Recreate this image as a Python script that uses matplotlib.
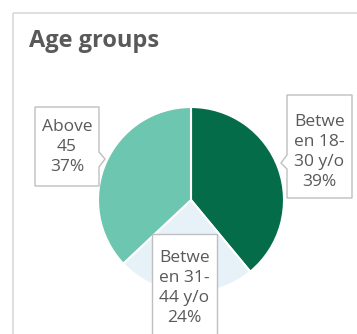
import matplotlib
matplotlib.use("Agg")
import matplotlib.pyplot as plt
from matplotlib.patches import Polygon, Rectangle

# data
groups = ["Betwe\nen 18-\n30 y/o", "Betwe\nen 31-\n44 y/o", "Above\n45"]
shares = [39, 24, 37]
colors = ["#046c48", "#e6f2f8", "#6cc6b0"]

W, H = 357, 334
TXT = "#595959"
plt.rcParams["font.family"] = ["Open Sans", "DejaVu Sans"]

fig = plt.figure(figsize=(W / 100, H / 100), dpi=100)

# overlay in pixel coordinates for card and title
ov = fig.add_axes([0, 0, 1, 1])
ov.set_xlim(0, W)
ov.set_ylim(H, 0)
ov.axis("off")
ov.add_patch(Rectangle((13, 13), 400, 400, fill=False, ec="#d9d9d9", lw=1.2))
ov.text(29, 41, "Age groups", fontsize=17, fontweight="bold", color=TXT,
        va="center", ha="left")

# pie
cx, cy, r = 191, 200, 93
pa = fig.add_axes([(cx - r) / W, 1 - (cy + r) / H, 2 * r / W, 2 * r / H])
pa.pie(shares, colors=colors, startangle=90, counterclock=False, radius=1,
       wedgeprops=dict(edgecolor="white", linewidth=1.5))
pa.set_xlim(-1, 1)
pa.set_ylim(-1, 1)
pa.axis("off")

# callout boxes (layout, pixels)
boxes = [
    dict(x0=287, y0=95, x1=352, y1=198, side="left", py=(155, 169), tip=(281, 163)),
    dict(x0=152, y0=234, x1=217, y1=345, side=None),
    dict(x0=35, y0=107, x1=99, y1=186, side="right", py=(152, 167), tip=(105, 159)),
]
text_y = [152, 288, 147]

ov2 = fig.add_axes([0, 0, 1, 1])
ov2.set_xlim(0, W)
ov2.set_ylim(H, 0)
ov2.axis("off")
for g, s, b, ty in zip(groups, shares, boxes, text_y):
    x0, y0, x1, y1 = b["x0"], b["y0"], b["x1"], b["y1"]
    if b["side"] == "left":
        pts = [(x0, y0), (x1, y0), (x1, y1), (x0, y1), (x0, b["py"][1]),
               b["tip"], (x0, b["py"][0])]
    elif b["side"] == "right":
        pts = [(x0, y0), (x1, y0), (x1, b["py"][0]), b["tip"], (x1, b["py"][1]),
               (x1, y1), (x0, y1)]
    else:
        pts = [(x0, y0), (x1, y0), (x1, y1), (x0, y1)]
    ov2.add_patch(Polygon(pts, closed=True, fc="white", ec="#bfbfbf", lw=1.0))
    ov2.text((x0 + x1) / 2, ty, f"{g}\n{s}%", ha="center", va="center",
             fontsize=12.5, color=TXT, linespacing=1.32)

fig.savefig("out.png", dpi=100)
